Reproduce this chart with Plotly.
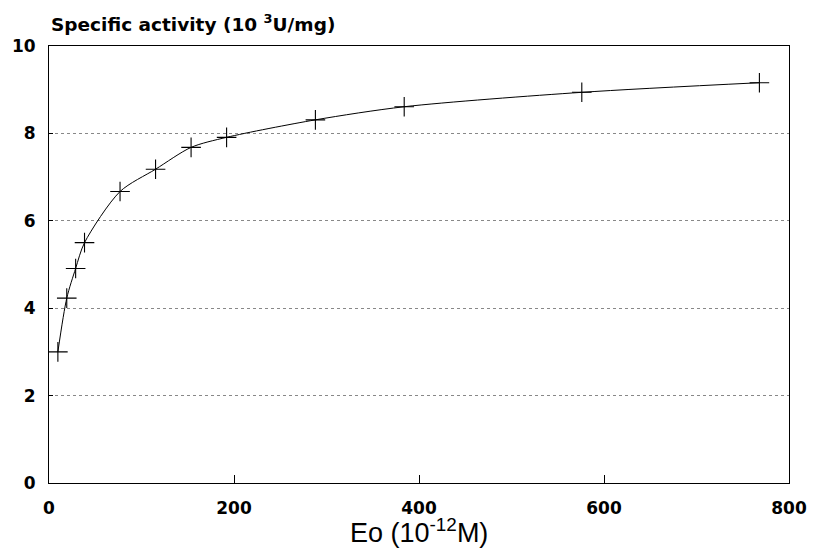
import plotly.graph_objects as go

# Data
eo = [9.6, 19.2, 28.8, 38.4, 76.8, 115.2, 153.6, 192, 288, 384, 576, 768]
activity = [3.0, 4.23, 4.91, 5.50, 6.67, 7.18, 7.68, 7.91, 8.31, 8.61, 8.94, 9.16]

x_ticks = [0, 200, 400, 600, 800]
y_ticks = [0, 2, 4, 6, 8, 10]

fig = go.Figure()
fig.add_trace(go.Scatter(
    x=eo, y=activity, mode="lines",
    line=dict(color="black", width=1, shape="spline", smoothing=0.8),
    hoverinfo="skip", showlegend=False,
))
fig.add_trace(go.Scatter(
    x=eo, y=activity, mode="markers",
    marker=dict(symbol="cross-thin", size=14, line=dict(color="black", width=1.1)),
    showlegend=False,
))

tick_font = dict(family="DejaVu Sans", size=17, color="black", weight="bold")

fig.update_layout(
    width=819, height=548,
    margin=dict(l=47, r=21, t=46, b=65),
    paper_bgcolor="white", plot_bgcolor="white",
    xaxis=dict(
        range=[0, 800], tickvals=x_ticks, ticktext=[str(v) for v in x_ticks],
        showgrid=False, zeroline=False,
        showline=True, linecolor="black", linewidth=1, mirror=True,
        ticks="inside", ticklen=8, tickcolor="black", tickwidth=1,
        tickfont=tick_font, ticklabelstandoff=10,
    ),
    yaxis=dict(
        range=[0, 10], tickvals=y_ticks, ticktext=[str(v) for v in y_ticks],
        showgrid=True, gridcolor="#888888", griddash="dot", gridwidth=1,
        zeroline=False,
        showline=True, linecolor="black", linewidth=1, mirror=True,
        ticks="inside", ticklen=4, tickcolor="black", tickwidth=1,
        tickfont=tick_font, ticklabelstandoff=9,
    ),
    annotations=[
        dict(text="Specific activity (10 <sup>3</sup>U/mg)", xref="paper", yref="paper",
             x=0.0, y=1.02, xanchor="left", yanchor="bottom", showarrow=False,
             font=dict(family="DejaVu Sans", size=18.5, color="black", weight="bold")),
        dict(text="Eo (10<sup>-12</sup>M)", xref="paper", yref="paper",
             x=0.5, y=-0.153, xanchor="center", yanchor="bottom", showarrow=False,
             font=dict(family="Liberation Sans", size=27, color="black")),
    ],
)

fig.write_html("out.html")
